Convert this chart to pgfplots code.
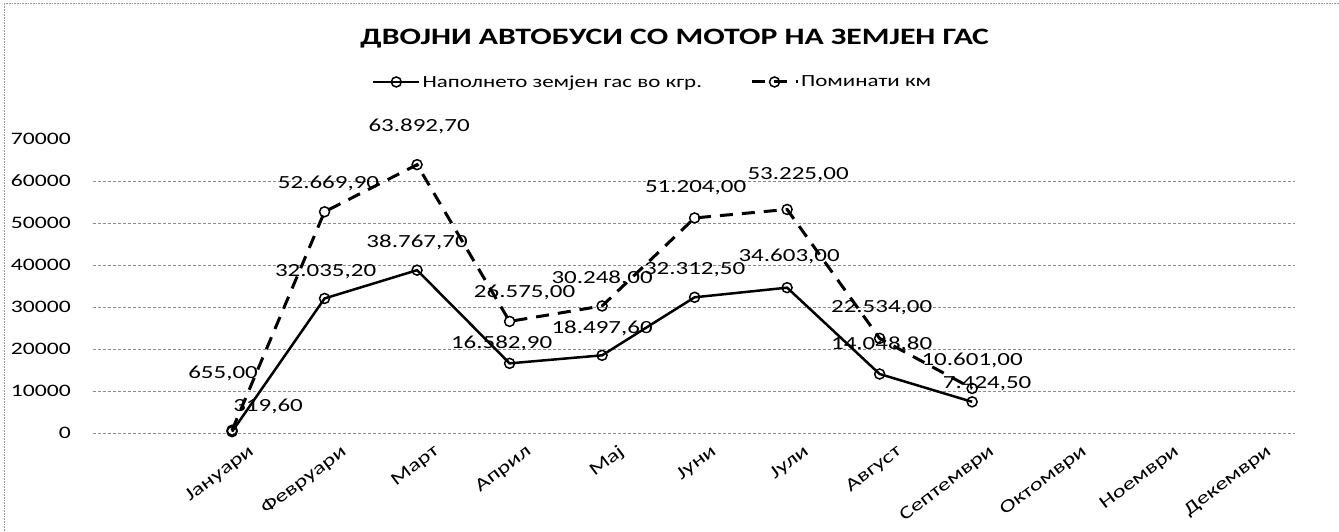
\documentclass[border=0pt]{standalone}
\usepackage{pgfplots}
\pgfplotsset{compat=1.18}
\usepackage{pgfplotstable}
\usepackage{fontspec}
\setmainfont{Carlito}[FakeStretch=1.35]

% x y: data; lx ly: where the data label is centred
\pgfplotstableread{
x y lbl lx ly
0 319.6 319,60 0.389 6273
1 32035.2 32.035,20 1.011 38464
2 38767.7 38.767,70 2 45435
3 16582.9 16.582,90 2.914 21345
4 18497.6 18.497,60 4 24927
5 32312.5 32.312,50 5 38980
6 34603.0 34.603,00 6.022 41984
7 14048.8 14.048,80 7.022 21192
8 7424.5 7.424,50 8.162 11710
}\gas

\pgfplotstableread{
x y lbl lx ly
0 655 655,00 -0.097 14227
1 52669.9 52.669,90 1.043 59337
2 63892.7 63.892,70 2.022 72941
3 26575 26.575,00 3.162 33480
4 30248 30.248,00 4 36915
5 51204 51.204,00 5.011 58347
6 53225 53.225,00 6.119 61558
7 22534 22.534,00 7.022 29915
8 10601 10.601,00 8 17268
}\km

\pgfplotsset{
  mylabels/.style={
    draw=none, mark=none, forget plot,
    nodes near coords,
    point meta=explicit symbolic,
    every node near coord/.append style={anchor=center, inner sep=0pt, font=\fontsize{18.5}{21}\selectfont, text=black},
  }
}

\begin{document}
\begin{tikzpicture}
\path[use as bounding box] (-93pt,-98pt) rectangle (1246pt,433pt);
\draw[black!40, densely dotted, line width=0.6pt] (-89pt,-98pt) -- (-89pt,430pt) -- (1246pt,430pt);
\begin{axis}[
  at={(0pt,0pt)}, anchor=south west,
  scale only axis, width=1202pt, height=294pt,
  xmin=-1.503, xmax=11.49, ymin=0, ymax=70000,
  scaled y ticks=false,
  axis line style={draw=none},
  major tick length=0pt, minor tick length=0pt,
  xtick={0,...,11},
  xticklabels={Јануари,Февруари,Март,Април,Мај,Јуни,Јули,Август,Септември,Октомври,Ноември,Декември},
  xticklabel style={rotate=37, anchor=north east, inner sep=0pt, xshift=6pt, yshift=-18pt, font=\fontsize{18}{20}\selectfont},
  ytick={0,10000,...,70000},
  yticklabels={0,10000,20000,30000,40000,50000,60000,70000},
  yticklabel style={anchor=east, inner sep=0pt, xshift=-22pt, font=\fontsize{17.5}{20}\selectfont},
  minor ytick={0,10000,...,60000},
  yminorgrids=true,
  minor grid style={black!45, dash pattern=on 3pt off 2pt, line width=0.8pt},
  clip=false,
  title={ДВОЈНИ АВТОБУСИ СО МОТОР НА ЗЕМЈЕН ГАС},
  title style={at={(0.484,1.320)}, anchor=center, font=\fontsize{23.5}{26}\selectfont\bfseries},
  legend columns=2,
  legend style={at={(0.232,1.194)}, anchor=west, draw=none, fill=none, inner sep=0pt,
    font=\fontsize{17}{19}\selectfont,
    /tikz/every even column/.append style={column sep=46pt}},
  legend image code/.code={\draw[mark repeat=2,mark phase=2,#1] plot coordinates {(0pt,0pt) (23pt,0pt) (46pt,0pt)};},
]
\addplot[black, line width=2.5pt, mark=o, mark size=5pt, mark options={solid, line width=1.5pt}]
  table[x=x, y=y] {\gas};
\addlegendentry{Наполнето земјен гас во кгр.}
\addplot[black, line width=3pt, dash pattern=on 13pt off 9pt, mark=o, mark size=5pt, mark options={solid, line width=1.5pt}]
  table[x=x, y=y] {\km};
\addlegendentry{Поминати км}
\addplot[mylabels] table[x=lx, y=ly, meta=lbl] {\gas};
\addplot[mylabels] table[x=lx, y=ly, meta=lbl] {\km};
\end{axis}
\end{tikzpicture}
\end{document}
